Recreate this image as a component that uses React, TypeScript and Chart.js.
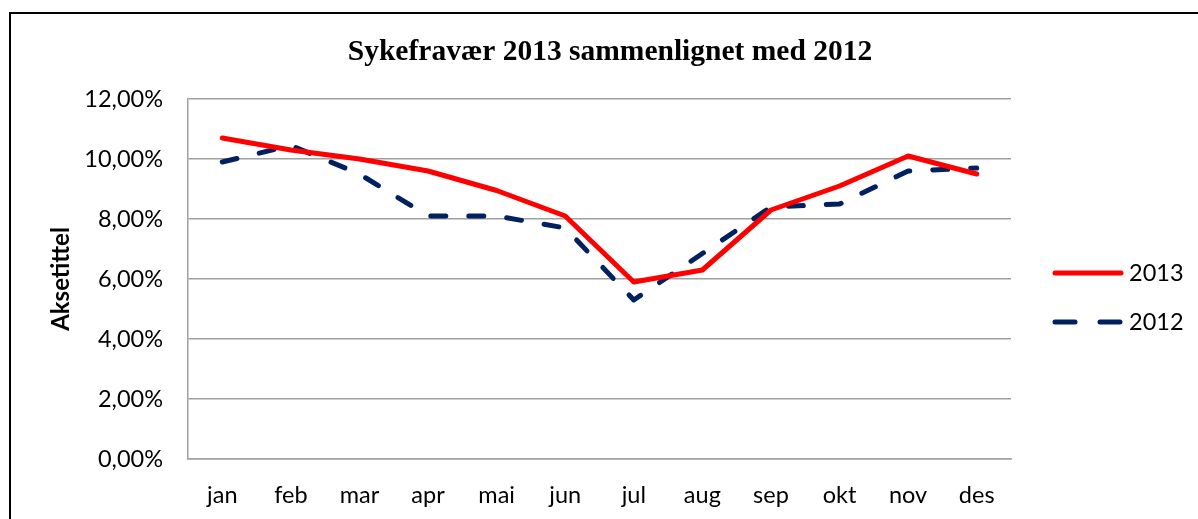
import React, { useEffect, useRef } from "react";
import { Chart, registerables } from "chart.js";

Chart.register(...registerables);

const months = ["jan", "feb", "mar", "apr", "mai", "jun", "jul", "aug", "sep", "okt", "nov", "des"];
const values2013 = [10.7, 10.3, 10.0, 9.6, 8.95, 8.1, 5.9, 6.3, 8.3, 9.1, 10.1, 9.5];
const values2012 = [9.9, 10.45, 9.5, 8.1, 8.1, 7.7, 5.3, 6.85, 8.4, 8.5, 9.6, 9.7];
const seriesNames = ["2013", "2012"];
const seriesColors = ["#FF0000", "#002060"];
const yMin = 0;
const yMax = 12;
const yStep = 2;
const titleText = "Sykefravær 2013 sammenlignet med 2012";
const yAxisTitle = "Aksetittel";

const tickFont = "Lato";

const overlayPlugin = {
  id: "overlay",
  afterDraw(chart: any) {
    const ctx = chart.ctx as CanvasRenderingContext2D;
    const area = chart.chartArea;
    ctx.save();
    // title
    ctx.fillStyle = "#000";
    ctx.font = "bold 29.5px 'Liberation Serif', 'Times New Roman', serif";
    ctx.textAlign = "center";
    ctx.textBaseline = "alphabetic";
    ctx.fillText(titleText, 610, 60);
    // y axis title
    ctx.save();
    ctx.translate(61, (area.top + area.bottom) / 2);
    ctx.rotate(-Math.PI / 2);
    ctx.font = `bold 24px ${tickFont}`;
    ctx.textAlign = "center";
    ctx.textBaseline = "middle";
    ctx.fillText(yAxisTitle, 0, 0);
    ctx.restore();
    // legend
    const x0 = area.right + 44;
    const x1 = area.right + 110;
    const ys = [area.top + 174, area.top + 223];
    chart.data.datasets.forEach((ds: any, i: number) => {
      const y = ys[i];
      ctx.save();
      ctx.strokeStyle = ds.borderColor;
      ctx.lineWidth = 5;
      ctx.lineCap = "round";
      ctx.setLineDash(ds.borderDash && ds.borderDash.length ? [20, 25] : []);
      ctx.beginPath();
      ctx.moveTo(x0, y);
      ctx.lineTo(x1, y);
      ctx.stroke();
      ctx.restore();
      ctx.fillStyle = "#000";
      ctx.font = `23.5px ${tickFont}`;
      ctx.textAlign = "left";
      ctx.textBaseline = "middle";
      ctx.fillText(ds.label, x1 + 8, y);
    });
    ctx.restore();
  },
};

export default function App() {
  const ref = useRef<HTMLCanvasElement>(null);
  useEffect(() => {
    if (!ref.current) return;
    const chart = new Chart(ref.current, {
      type: "line",
      data: {
        labels: months,
        datasets: [
          {
            label: seriesNames[0],
            data: values2013,
            borderColor: seriesColors[0],
            backgroundColor: seriesColors[0],
            borderWidth: 5,
            pointRadius: 0,
            borderCapStyle: "round",
            borderJoinStyle: "round",
            tension: 0,
          },
          {
            label: seriesNames[1],
            data: values2012,
            borderColor: seriesColors[1],
            backgroundColor: seriesColors[1],
            borderWidth: 5,
            pointRadius: 0,
            borderDash: [15, 23],
            borderCapStyle: "round",
            borderJoinStyle: "round",
            tension: 0,
          },
        ],
      },
      options: {
        animation: false,
        responsive: false,
        maintainAspectRatio: false,
        layout: { padding: { left: 10, top: 99, right: 187, bottom: 0 } },
        plugins: {
          legend: { display: false },
          title: { display: false },
          tooltip: { enabled: false },
        },
        scales: {
          x: {
            offset: true,
            grid: { display: false, drawTicks: false },
            border: { display: true, color: "#A0A0A0", width: 1.5 },
            ticks: {
              color: "#000",
              font: { family: tickFont, size: 23.5 },
              padding: 22,
              maxRotation: 0,
              autoSkip: false,
            },
            afterFit: (s: any) => {
              s.height = 60;
            },
          },
          y: {
            min: yMin,
            max: yMax,
            grid: { color: "#A0A0A0", lineWidth: 1.5, drawTicks: false },
            border: { display: true, color: "#A0A0A0", width: 1.5 },
            ticks: {
              stepSize: yStep,
              color: "#000",
              font: { family: tickFont, size: 23.5 },
              padding: 25,
              callback: (v: any) => Number(v).toFixed(2).replace(".", ",") + "%",
            },
            afterFit: (s: any) => {
              s.width = 178;
            },
          },
        },
      },
      plugins: [overlayPlugin],
    });
    return () => chart.destroy();
  }, []);
  return (
    <div style={{ position: "absolute", left: 0, top: 0, width: 1198, height: 519, overflow: "hidden", background: "#fff" }}>
      <div
        style={{
          position: "absolute",
          left: 9,
          top: 12,
          width: 1300,
          height: 700,
          borderLeft: "2px solid #000",
          borderTop: "2px solid #000",
        }}
      />
      <canvas ref={ref} width={1198} height={519} style={{ position: "absolute", left: 0, top: 0 }} />
    </div>
  );
}
